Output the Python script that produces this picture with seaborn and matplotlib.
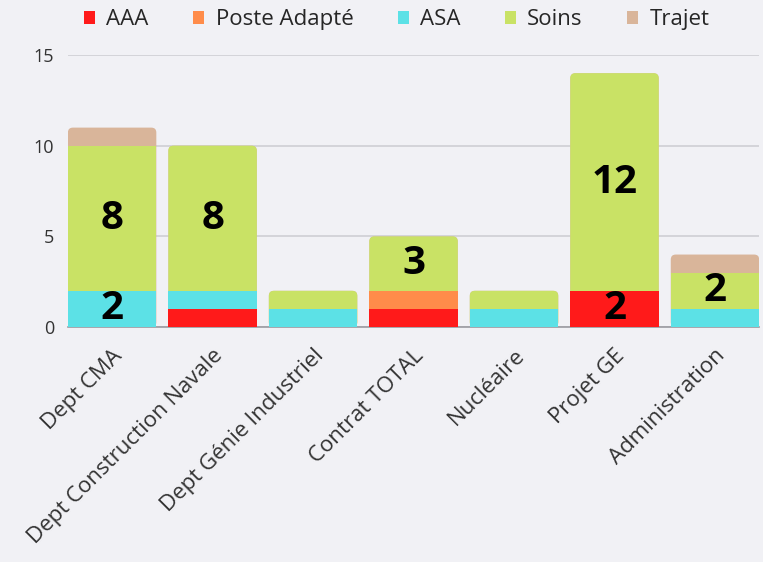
import matplotlib.pyplot as plt
from matplotlib.patches import FancyBboxPatch, Patch
import numpy as np
import pandas as pd
import seaborn as sns

categories = ["Dept CMA", "Dept Construction Navale", "Dept Génie Industriel",
              "Contrat TOTAL", "Nucléaire", "Projet GE", "Administration"]
series = ["AAA", "Poste Adapté", "ASA", "Soins", "Trajet"]
aaa = [0, 1, 0, 1, 0, 2, 0]
poste = [0, 0, 0, 1, 0, 0, 0]
asa = [2, 1, 1, 0, 1, 0, 1]
soins = [8, 8, 1, 3, 1, 12, 2]
trajet = [1, 0, 0, 0, 0, 0, 1]
colors = ["#FF1A1A", "#FF8C4A", "#5CE1E6", "#C9E265", "#D9B59A"]

df = pd.DataFrame({"cat": categories, "AAA": aaa, "Poste Adapté": poste,
                   "ASA": asa, "Soins": soins, "Trajet": trajet})
cum = df[series].cumsum(axis=1)
totals = cum["Trajet"].values

bg = "#F1F1F5"
sns.set_style("white")
plt.rcParams["font.family"] = ["Open Sans", "DejaVu Sans"]

fig = plt.figure(figsize=(7.63, 5.62), dpi=100, facecolor=bg)
ax = fig.add_axes([0.089, 0.418, 0.906, 0.484])
ax.set_facecolor(bg)

# painter's trick: draw cumulative totals from top layer down
for j, (s, c) in enumerate(reversed(list(zip(series, colors)))):
    sns.barplot(x=df["cat"], y=cum[s], color=c, width=0.88, saturation=1,
                linewidth=0, edgecolor="none", ax=ax, zorder=3 + j * 0.1)

# round the top corners of each stack
for cont in ax.containers:
    for i, p in enumerate(cont.patches):
        h = p.get_height()
        if h > 0 and np.isclose(h, totals[i]):
            fb = FancyBboxPatch((p.get_x(), 0), p.get_width(), h,
                                boxstyle="round,pad=0,rounding_size=0.05",
                                mutation_aspect=5.5, fc=p.get_facecolor(),
                                ec="none", zorder=p.get_zorder())
            p.set_visible(False)
            ax.add_patch(fb)

# value labels (only segments >= 2)
for i in range(len(categories)):
    lo = 0
    for s in series:
        v = df.loc[i, s]
        if v >= 2:
            ax.text(i, lo + v / 2, str(v), ha="center", va="center",
                    fontsize=29, fontweight="bold", color="black", zorder=5)
        lo += v

ax.set_xlim(-0.44, 6.44)
ax.set_ylim(0, 15)
ax.set_yticks([0, 5, 10, 15])
ax.yaxis.grid(True, color="#CFCFD4", lw=1.2, zorder=0)
ax.set_axisbelow(True)
for sp in ["top", "right", "left"]:
    ax.spines[sp].set_visible(False)
ax.spines["bottom"].set_color("#9A9AA0")
ax.spines["bottom"].set_linewidth(1.2)
ax.set_xlabel("")
ax.set_ylabel("")
ax.tick_params(axis="y", length=0, labelsize=13, colors="#333333", pad=10)
ax.tick_params(axis="x", length=0, labelsize=16, colors="#333333", pad=13)
plt.setp(ax.get_xticklabels(), rotation=45, ha="right", rotation_mode="anchor")

handles = [Patch(facecolor=c, edgecolor="none") for c in colors]
ax.legend(handles, series, loc="center",
          bbox_to_anchor=(0.52, 0.965), bbox_transform=fig.transFigure,
          ncol=5, frameon=False, fontsize=16, handlelength=0.5,
          handleheight=0.5, handletextpad=0.5, columnspacing=2.0)

fig.savefig("out.png", dpi=100, facecolor=bg)
